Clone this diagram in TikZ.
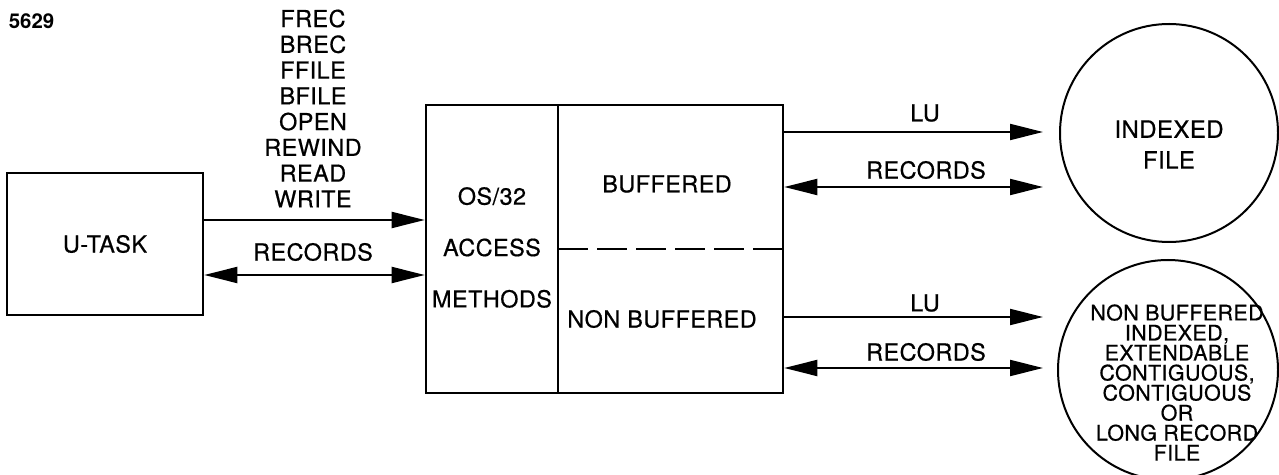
\documentclass[tikz,border=0pt]{standalone}
\usepackage{fontspec}
\setmainfont{TeX Gyre Heros}
\newfontfamily\lblfont{TeX Gyre Heros}[FakeBold=0.6,LetterSpace=2]
\usetikzlibrary{arrows.meta}
\begin{document}
\begin{tikzpicture}[x=1bp,y=-1bp,
  box/.style={draw, line width=2.6bp, inner sep=0pt},
  lbl/.style={font=\lblfont\fontsize{23.5}{25.86}\selectfont, inner sep=0pt, align=center},
  circlbl/.style={font=\lblfont\fontsize{21.5}{20.1}\selectfont, inner sep=0pt, align=center},
  filecirc/.style={draw, circle, line width=2bp, inner sep=0pt, minimum size=218bp},
  tip/.style={-{Triangle[length=33bp,width=16bp]}, line width=2bp},
  dtip/.style={{Triangle[length=33bp,width=16bp]}-{Triangle[length=33bp,width=16bp]}, line width=2bp},
]
\useasboundingbox (0,0) rectangle (1279,475);
\clip (0,0) rectangle (1279,475);

% figure number
\node[font=\bfseries\fontsize{20.5}{22}\selectfont, inner sep=0pt] (fignum) at (31.5,21) {5629};

% boxes
\node[box, minimum width=196bp, minimum height=142bp, lbl] (utask) at (105,244) {U-TASK};
\node[box, minimum width=357bp, minimum height=288bp] (main) at (604.5,249) {};
\coordinate (divtop) at (558,105);
\coordinate (divbot) at (558,393);
\draw[line width=2.6bp] (divtop) -- (divbot);
\coordinate (dashl) at (558,249);
\draw[line width=2.2bp, dash pattern=on 30bp off 9bp] (dashl) -- (main.east |- dashl);

\node[lbl, text width=130bp] (osam) at (492,247.5) {OS/32\\[25.6bp]ACCESS\\[25.6bp]METHODS};
\node[lbl] (buffered) at (667,184) {BUFFERED};
\node[lbl] (nonbuffered) at (662,319) {NON BUFFERED};

% files
\node[filecirc] (ifile) at (1169,133) {};
\node[lbl, font=\lblfont\fontsize{24}{31}\selectfont] (ifiletxt) at (1169,144.5) {INDEXED\\FILE};
\node[filecirc, minimum size=220bp] (nbfile) at (1168,370) {};
\node[circlbl] (nbfiletxt) at (1177,382.5) {NON BUFFERED\\INDEXED,\\EXTENDABLE\\CONTIGUOUS,\\CONTIGUOUS\\OR\\LONG RECORD\\FILE};

% commands
\node[lbl] (cmds) at (313,108.5) {FREC\\BREC\\FFILE\\BFILE\\OPEN\\REWIND\\READ\\WRITE};

% left connectors
\coordinate (c1) at (0,220);
\coordinate (c2) at (0,275);
\draw[tip] (utask.east |- c1) -- (main.west |- c1);
\draw[dtip] (utask.east |- c2) -- (main.west |- c2);
\node[lbl] (recl) at (313,252) {RECORDS};

% right connectors
\coordinate (e1) at (1043,132);
\coordinate (e2) at (1043,187);
\coordinate (e3) at (1043,317);
\coordinate (e4) at (1043,368);
\draw[tip] (main.east |- e1) -- (e1);
\draw[dtip] (main.east |- e2) -- (e2);
\draw[tip] (main.east |- e3) -- (e3);
\draw[dtip] (main.east |- e4) -- (e4);
\node[lbl] (lu1) at (925,113) {LU};
\node[lbl] (rec1) at (926,170) {RECORDS};
\node[lbl] (lu2) at (925,303) {LU};
\node[lbl] (rec2) at (926,352) {RECORDS};
\end{tikzpicture}
\end{document}
